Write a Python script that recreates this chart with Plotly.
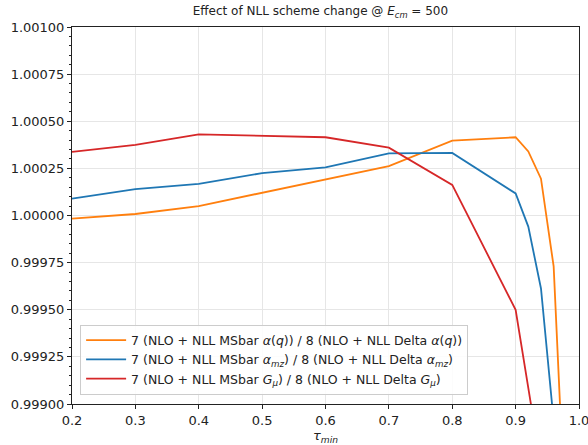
import plotly.graph_objects as go

tau_orange = [0.2, 0.3, 0.4, 0.5, 0.6, 0.7, 0.8, 0.9, 0.92, 0.94, 0.96, 0.98]
r_alpha_q = [0.999983, 1.000008, 1.00005, 1.000122, 1.000192, 1.000262, 1.000397, 1.000415,
             1.00034, 1.000195, 0.99973, 0.99827]
tau_blue = [0.2, 0.3, 0.4, 0.5, 0.6, 0.7, 0.8, 0.9, 0.92, 0.94, 0.96]
r_alpha_mz = [1.00009, 1.00014, 1.000168, 1.000225, 1.000255, 1.00033, 1.000332, 1.000117,
              0.999941, 0.999613, 0.99891]
tau_red = [0.2, 0.3, 0.4, 0.5, 0.6, 0.7, 0.8, 0.9, 0.94]
r_gmu = [1.000337, 1.000375, 1.00043, 1.000422, 1.000415, 1.00036, 1.000162, 0.9995, 0.99867]

labels = [
    "7 (NLO + NLL MSbar <i>α</i>(<i>q</i>)) / 8 (NLO + NLL Delta <i>α</i>(<i>q</i>))",
    "7 (NLO + NLL MSbar <i>α</i><sub><i>mz</i></sub>) / 8 (NLO + NLL Delta <i>α</i><sub><i>mz</i></sub>)",
    "7 (NLO + NLL MSbar <i>G</i><sub><i>μ</i></sub>) / 8 (NLO + NLL Delta <i>G</i><sub><i>μ</i></sub>)",
]
colors = ["#ff7f0e", "#1f77b4", "#d62728"]
xticks = [0.2, 0.3, 0.4, 0.5, 0.6, 0.7, 0.8, 0.9, 1.0]
yticks = [0.999, 0.99925, 0.9995, 0.99975, 1.0, 1.00025, 1.0005, 1.00075, 1.001]

fig = go.Figure()
for xs, ys, lab, c in zip([tau_orange, tau_blue, tau_red], [r_alpha_q, r_alpha_mz, r_gmu], labels, colors):
    fig.add_trace(go.Scatter(x=xs, y=ys, mode="lines", name=lab,
                             line=dict(color=c, width=1.8)))

font = "DejaVu Sans, sans-serif"
fig.update_layout(
    width=588, height=445,
    margin=dict(l=72, r=9, t=27, b=41, autoexpand=False),
    paper_bgcolor="white", plot_bgcolor="white",
    font=dict(family=font, size=13, color="#222"),
    title=dict(text="Effect of NLL scheme change @ <i>E</i><sub><i>cm</i></sub> = 500",
               x=0.545, xanchor="center", y=0.985, yanchor="top", font=dict(size=12)),
    showlegend=True,
    legend=dict(x=0.016, y=0.025, xanchor="left", yanchor="bottom",
                bgcolor="rgba(255,255,255,0.85)", bordercolor="#cccccc", borderwidth=1,
                font=dict(size=12.5), tracegroupgap=0, itemwidth=40),
    xaxis=dict(range=[0.2, 1.0], tickvals=xticks, ticktext=[f"{v:.1f}" for v in xticks],
               showgrid=True, gridcolor="#e6e6e6", gridwidth=1, automargin=False,
               ticklabeloverflow="allow",
               showline=True, linecolor="#222", linewidth=1, mirror=True,
               ticks="outside", ticklen=4, tickcolor="#222", zeroline=False,
               title=dict(text="<i>τ</i><sub><i>min</i></sub>", font=dict(size=13))),
    yaxis=dict(range=[0.999, 1.001], tickvals=yticks, ticktext=[f"{v:.5f}" for v in yticks],
               showgrid=True, gridcolor="#e6e6e6", gridwidth=1, automargin=False,
               ticklabeloverflow="allow",
               showline=True, linecolor="#222", linewidth=1, mirror=True,
               ticks="outside", ticklen=4, tickcolor="#222", zeroline=False,
               minor=dict(dtick=0.00005, tick0=0.999, ticks="outside", ticklen=2,
                          tickcolor="#222", showgrid=False)),
)

fig.write_html("out.html")
